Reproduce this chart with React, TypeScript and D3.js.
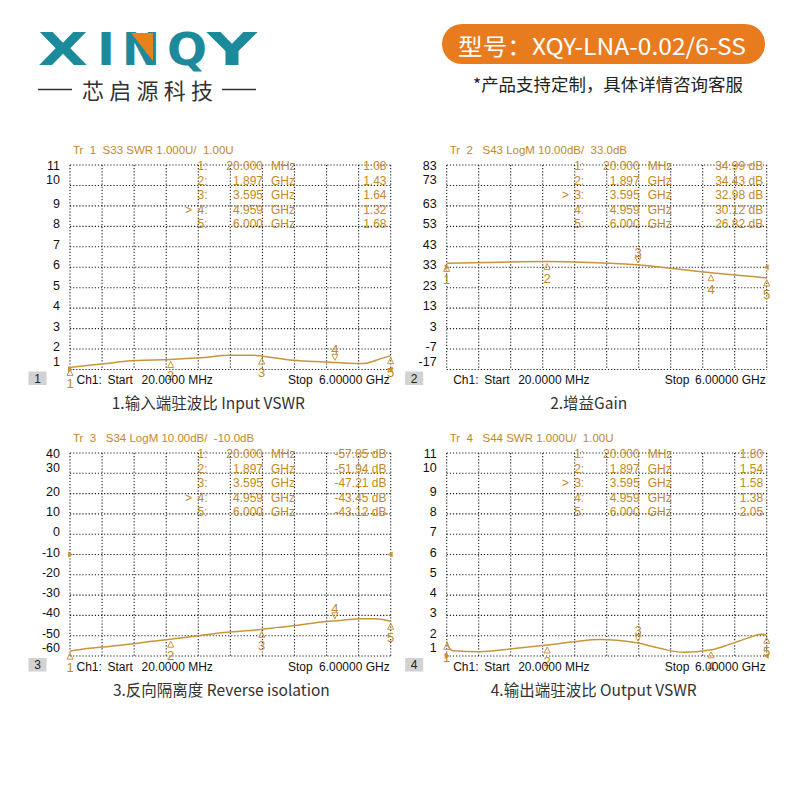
import React from 'react';
import * as d3 from 'd3';

const FREQ_START = 0.02;
const FREQ_STOP = 6.0;

const markerFreqs = [0.02, 1.897, 3.595, 4.959, 6.0];
const markerFreqText = ['20.000', '1.897', '3.595', '4.959', '6.000'];
const markerUnitText = ['MHz', 'GHz', 'GHz', 'GHz', 'GHz'];

// Chart 1: S33 input VSWR
const s33Ticks = [11, 10, 9, 8, 7, 6, 5, 4, 3, 2, 1];
const s33Freq = [0.02, 0.64, 1.23, 1.9, 2.44, 3.0, 3.44, 3.61, 4.18, 4.79, 5.4, 5.55, 5.8, 6.0];
const s33Val = [1.1, 1.28, 1.44, 1.49, 1.57, 1.7, 1.7, 1.65, 1.45, 1.37, 1.29, 1.31, 1.52, 1.68];
const s33Readout = ['1.08', '1.43', '1.64', '1.32', '1.68'];

// Chart 2: S43 gain
const s43Ticks = [83, 73, 63, 53, 43, 33, 23, 13, 3, -7, -17];
const s43Freq = [0.02, 1.02, 1.89, 2.39, 3.01, 3.57, 4.25, 4.88, 5.5, 6.0];
const s43Val = [34.9, 35.5, 35.8, 35.6, 35.0, 34.2, 32.4, 30.5, 29.0, 27.8];
const s43Readout = ['34.99 dB', '34.43 dB', '32.98 dB', '30.12 dB', '26.82 dB'];

// Chart 3: S34 reverse isolation
const s34Ticks = [40, 30, 20, 10, 0, -10, -20, -30, -40, -50, -60];
const s34Freq = [0.02, 0.3, 0.64, 0.9, 1.23, 1.5, 1.9, 2.2, 2.44, 2.7, 3.0, 3.3, 3.61, 3.9, 4.18, 4.5, 4.79, 5.0, 5.3, 5.5, 5.68, 5.85, 6.0];
const s34Val = [-57.6, -56.4, -55.6, -54.8, -53.9, -52.9, -51.7, -50.8, -49.9, -49.0, -48.2, -47.6, -46.8, -45.9, -45.1, -44.0, -43.0, -42.6, -41.9, -41.6, -41.6, -42.0, -42.9];
const s34Readout = ['-57.85 dB', '-51.94 dB', '-47.21 dB', '-43.45 dB', '-43.12 dB'];

// Chart 4: S44 output VSWR
const s44Ticks = [11, 10, 9, 8, 7, 6, 5, 4, 3, 2, 1];
const s44Freq = [0.02, 0.08, 0.14, 0.64, 1.2, 1.89, 2.4, 2.88, 3.2, 3.57, 4.0, 4.44, 4.94, 5.2, 5.5, 5.75, 5.9, 6.0];
const s44Val = [1.72, 1.36, 1.26, 1.21, 1.35, 1.54, 1.7, 1.81, 1.78, 1.65, 1.38, 1.18, 1.29, 1.48, 1.75, 1.98, 2.07, 2.02];
const s44Readout = ['1.80', '1.54', '1.58', '1.38', '2.05'];

const TRACE = '#C9953A';
const TXT = '#C48828';
const GRID = '#1e1e1e';
const SANS = '"Liberation Sans", Arial, sans-serif';
const CJK = '"Noto Sans CJK SC", "Noto Sans", sans-serif';

type Cfg = {
  num: number;
  title: string;
  ticks: number[];
  ref: number;
  freq: number[];
  vals: number[];
  readout: string[];
  active: number;
  caption: string;
  captionDx: number;
  x0: number;
  y0: number;
  w: number;
  h: number;
};

const panels: Cfg[] = [
  { num: 1, title: 'Tr  1  S33 SWR 1.000U/  1.00U', ticks: s33Ticks, ref: 1, freq: s33Freq, vals: s33Val, readout: s33Readout, active: 3, caption: '1.输入端驻波比 Input VSWR', captionDx: -22, x0: 70, y0: 165, w: 320.7, h: 204.5 },
  { num: 2, title: 'Tr  2   S43 LogM 10.00dB/  33.0dB', ticks: s43Ticks, ref: 33, freq: s43Freq, vals: s43Val, readout: s43Readout, active: 2, caption: '2.增益Gain', captionDx: -18, x0: 446.7, y0: 165, w: 320, h: 204.5 },
  { num: 3, title: 'Tr  3   S34 LogM 10.00dB/  -10.0dB', ticks: s34Ticks, ref: -10, freq: s34Freq, vals: s34Val, readout: s34Readout, active: 3, caption: '3.反向隔离度 Reverse isolation', captionDx: -9, x0: 70, y0: 453, w: 320.7, h: 203 },
  { num: 4, title: 'Tr  4   S44 SWR 1.000U/  1.00U', ticks: s44Ticks, ref: 1, freq: s44Freq, vals: s44Val, readout: s44Readout, active: 2, caption: '4.输出端驻波比 Output VSWR', captionDx: -13, x0: 446.7, y0: 453, w: 320, h: 203 },
];

function interp(fs: number[], vs: number[], f: number) {
  const i = Math.max(1, Math.min(fs.length - 1, d3.bisectLeft(fs, f)));
  const t = (f - fs[i - 1]) / (fs[i] - fs[i - 1]);
  return vs[i - 1] + t * (vs[i] - vs[i - 1]);
}

function Panel({ c }: { c: Cfg }) {
  const x = d3.scaleLinear().domain([FREQ_START, FREQ_STOP]).range([c.x0, c.x0 + c.w]);
  const y = d3.scaleLinear().domain([c.ticks[c.ticks.length - 1], c.ticks[0]]).range([c.y0 + c.h, c.y0]);
  const line = d3
    .line<number>()
    .x((_, i) => x(c.freq[i]))
    .y((d) => y(d))
    .curve(d3.curveMonotoneX);
  const vLines = d3.range(11).map((i) => c.x0 + (i * c.w) / 10);
  const bottom = c.y0 + c.h;
  const right = c.x0 + c.w;
  const ry = y(c.ref);
  const tickDy = (i: number) => (i === 0 ? 1 : i === 1 ? -5 : i === c.ticks.length - 1 ? -8 : -2);
  const rowY = (i: number) => c.y0 + 1 + i * 14.6;
  return (
    <g>
      {c.ticks.map((t, i) => (
        <line key={'h' + i} x1={c.x0} x2={right} y1={y(t)} y2={y(t)} stroke={GRID} strokeWidth={1.1} strokeDasharray="1.2 1.9" />
      ))}
      {vLines.map((vx, i) => (
        <line key={'v' + i} x1={vx} x2={vx} y1={c.y0} y2={bottom} stroke={GRID} strokeWidth={1.1} strokeDasharray="1.2 1.9" />
      ))}
      {c.ticks.map((t, i) => (
        <text key={'t' + i} x={c.x0 - 10} y={y(t) + tickDy(i)} textAnchor="end" dominantBaseline="central" fontFamily={SANS} fontSize={12.5} fill="#111">
          {t}
        </text>
      ))}
      <text x={c.x0 + 3} y={c.y0 - 15.5} dominantBaseline="central" fontFamily={SANS} fontSize={11.5} fill={TXT} style={{ whiteSpace: 'pre' }}>
        {c.title}
      </text>
      {markerFreqs.map((_, i) => (
        <g key={'r' + i} fontFamily={SANS} fontSize={12} fill={TXT}>
          {i === c.active && (
            <text x={c.x0 + 122} y={rowY(i)} textAnchor="end" dominantBaseline="central">
              {'>'}
            </text>
          )}
          <text x={c.x0 + 127.5} y={rowY(i)} dominantBaseline="central">{`${i + 1}:`}</text>
          <text x={c.x0 + 193} y={rowY(i)} textAnchor="end" dominantBaseline="central">{markerFreqText[i]}</text>
          <text x={c.x0 + 201} y={rowY(i)} dominantBaseline="central">{markerUnitText[i]}</text>
          <text x={c.x0 + 316.5} y={rowY(i)} textAnchor="end" dominantBaseline="central">{c.readout[i]}</text>
        </g>
      ))}
      <polygon points={`${c.x0 - 2},${ry - 3} ${c.x0 + 3},${ry} ${c.x0 - 2},${ry + 3}`} fill={TRACE} />
      <polygon points={`${right + 2},${ry - 3} ${right - 3},${ry} ${right + 2},${ry + 3}`} fill={TRACE} />
      <path d={line(c.vals) || ''} fill="none" stroke={TRACE} strokeWidth={1.5} />
      {markerFreqs.map((f, i) => {
        const mx = x(f);
        const my = y(interp(c.freq, c.vals, f));
        const down = i === c.active;
        const pts = down
          ? `${mx - 3},${my - 8} ${mx + 3},${my - 8} ${mx},${my - 2}`
          : `${mx},${my + 2} ${mx - 3},${my + 8} ${mx + 3},${my + 8}`;
        return (
          <g key={'m' + i}>
            <polygon points={pts} fill="none" stroke={TRACE} strokeWidth={1} />
            <text x={mx} y={down ? my - 12.5 : my + 16.5} textAnchor="middle" dominantBaseline="central" fontFamily={SANS} fontSize={13} fill={TXT}>
              {i + 1}
            </text>
          </g>
        );
      })}
      <g fontFamily={SANS} fontSize={12} fill="#111">
        <text x={c.x0 + 6.5} y={bottom + 10.5} dominantBaseline="central">Ch1:</text>
        <text x={c.x0 + 37.5} y={bottom + 10.5} dominantBaseline="central">Start</text>
        <text x={c.x0 + 71.5} y={bottom + 10.5} dominantBaseline="central">20.0000 MHz</text>
        <text x={c.x0 + 218} y={bottom + 10.5} dominantBaseline="central">Stop</text>
        <text x={right - 1} y={bottom + 10.5} textAnchor="end" dominantBaseline="central">6.00000 GHz</text>
      </g>
      <rect x={c.x0 - 41.5} y={bottom + 2} width={18} height={13.5} fill="#d2d2d2" />
      <text x={c.x0 - 32.5} y={bottom + 9} textAnchor="middle" dominantBaseline="central" fontFamily={SANS} fontSize={12} fill="#222">
        {c.num}
      </text>
      <text x={c.x0 + c.w / 2 + c.captionDx} y={bottom + 32.5} textAnchor="middle" dominantBaseline="central" fontFamily={CJK} fontSize={15.5} fill="#333">
        {c.caption}
      </text>
    </g>
  );
}

const logoLetters = ['X', 'I', 'N', 'Q', 'Y'];
const logoLeft = [38, 97, 122, 167, 207];
const logoWidth = [50, 18, 38, 40, 50];

export default function App() {
  const teal = '#1B8A9B';
  return (
    <svg width={800} height={800} style={{ position: 'absolute', left: 0, top: 0, background: '#fff' }}>
      <rect width={800} height={800} fill="#fff" />
      {logoLetters.map((l, i) => (
        <text
          key={l}
          x={logoLeft[i]}
          y={65}
          fontFamily='"DejaVu Sans", sans-serif'
          fontWeight={700}
          fontSize={44}
          fill={teal}
          textLength={logoWidth[i]}
          lengthAdjust="spacingAndGlyphs"
        >
          {l}
        </text>
      ))}
      <polygon points="131,33 153,33 153,61" fill="#E8801E" />
      <line x1={38} x2={72} y1={89.5} y2={89.5} stroke="#333" strokeWidth={1.5} />
      <line x1={222} x2={256} y1={89.5} y2={89.5} stroke="#333" strokeWidth={1.5} />
      <text x={82} y={89} dominantBaseline="central" fontFamily={CJK} fontSize={22} fill="#333" textLength={131} lengthAdjust="spacing">
        芯启源科技
      </text>
      <rect x={442} y={24} width={323} height={40} rx={20} fill="#E97B1F" />
      <text x={458} y={44.5} dominantBaseline="central" fontFamily={CJK} fontSize={23} fill="#fff" textLength={288} lengthAdjust="spacingAndGlyphs">
        型号：XQY-LNA-0.02/6-SS
      </text>
      <text x={473} y={83.5} dominantBaseline="central" fontFamily={CJK} fontSize={17} fill="#222" textLength={270} lengthAdjust="spacingAndGlyphs">
        *产品支持定制，具体详情咨询客服
      </text>
      {panels.map((p) => (
        <Panel key={p.num} c={p} />
      ))}
    </svg>
  );
}
